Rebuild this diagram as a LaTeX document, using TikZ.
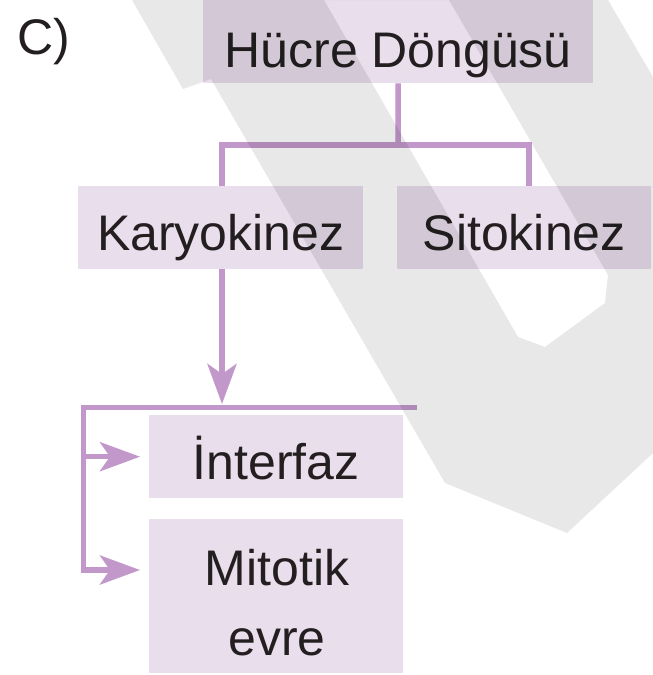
\documentclass[tikz,border=0pt]{standalone}
\usepackage{fontspec}
\setmainfont{Liberation Sans}
\usetikzlibrary{arrows.meta}
\definecolor{boxc}{RGB}{233,222,236}
\definecolor{linec}{RGB}{193,152,201}
\definecolor{wmc}{RGB}{232,232,232}
\definecolor{txtc}{RGB}{35,31,32}
\begin{document}
\begin{tikzpicture}[x=1pt,y=-1pt,
  box/.style={rectangle, fill=boxc, inner sep=0pt, anchor=north west, text=txtc,
    font=\fontsize{50}{70}\selectfont},
  lbl/.style={text=txtc, inner sep=0pt, font=\fontsize{50}{70}\selectfont},
  conn/.style={draw=linec, line width=5.5pt},
  arr/.style={conn, -{Stealth[length=40pt,width=29pt,inset=10pt]}}]
\useasboundingbox (0,0) rectangle (653,675);
\fill[white] (0,0) rectangle (653,675);

% label
\node[lbl, anchor=base west] (clab) at (17,54) {C)};

% boxes
\node[box, minimum width=390pt, minimum height=83pt, text height=67pt, text depth=16pt] (hucre) at (203,0) {Hücre Döngüsü};
\node[box, minimum width=285pt, minimum height=83pt, text height=64pt, text depth=19pt] (kary) at (78,186) {Karyokinez};
\node[box, minimum width=254pt, minimum height=83pt, text height=64pt, text depth=19pt] (sito) at (397,186) {Sitokinez};
\node[box, minimum width=254pt, minimum height=83pt, text height=64pt, text depth=19pt] (inter) at (149,415) {İnterfaz};
\node[box, minimum width=254pt, minimum height=154pt] (mitbox) at (149,519) {};
\node[lbl, anchor=base] (mit1) at (277,585) {Mitotik};
\node[lbl, anchor=base] (mit2) at (277,655) {evre};

% connectors
\coordinate (j1) at (398,145);
\coordinate (kx) at (222,0);
\coordinate (sx) at (529,0);
\coordinate (tipA) at (0,404);
\coordinate (barL) at (83.5,407.5);
\coordinate (barR) at (417,407.5);
\coordinate (mlev) at (0,570);

\draw[conn] (hucre.south) -- (j1);
\draw[conn] (kary.north -| kx) |- (j1) -| (sito.north -| sx);
\draw[arr] (kary.south -| kx) -- (kx |- tipA);
\draw[arr, shorten >=9pt] (barR) -- (barL) |- (mitbox.west |- mlev);
\draw[arr, shorten >=9pt] (barL |- inter.west) -- (inter.west);

% watermark
\begin{scope}[blend mode=multiply]
\fill[wmc, even odd rule]
  (132,0) -- (183,89) -- (211,79) -- (445,483) -- (567,533) -- (653,453) -- (653,77) -- (608,0) -- cycle
  (324,0) -- (518,337) -- (545,347) -- (605,303) -- (608,275) -- (449,0) -- cycle;
\end{scope}
\end{tikzpicture}
\end{document}
